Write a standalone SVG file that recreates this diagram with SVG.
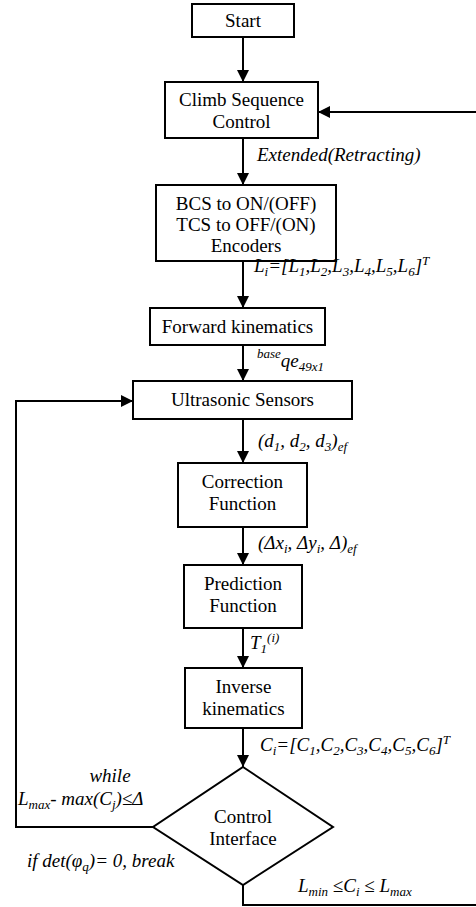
<svg xmlns="http://www.w3.org/2000/svg" width="476" height="907" viewBox="0 0 476 907">
<style>
.box{fill:#fff;stroke:#000;stroke-width:2}
.t{font-family:'Liberation Serif','Times New Roman',Tinos,'DejaVu Serif',serif;font-size:19px;text-anchor:middle;fill:#000}
.l{font-family:'Liberation Serif','Times New Roman',Tinos,'DejaVu Serif',serif;font-size:19px;font-style:italic;fill:#000}
.s{font-size:13px}
.c{fill:none;stroke:#000;stroke-width:2}
</style>
<defs>
<marker id="ah" markerWidth="12" markerHeight="12" viewBox="0 0 12 12" refX="12" refY="6" orient="auto" markerUnits="userSpaceOnUse">
<path d="M0,0 L12,6 L0,12 Z" fill="#000"/>
</marker>
</defs>
<g id="connectors">
<path class="c" d="M243,37 V82" marker-end="url(#ah)"/>
<path class="c" d="M243,138 V185" marker-end="url(#ah)"/>
<path class="c" d="M243,261 V308" marker-end="url(#ah)"/>
<path class="c" d="M243,345 V381" marker-end="url(#ah)"/>
<path class="c" d="M243,419 V463" marker-end="url(#ah)"/>
<path class="c" d="M243,527 V565" marker-end="url(#ah)"/>
<path class="c" d="M243,628 V668" marker-end="url(#ah)"/>
<path class="c" d="M243,728 V767" marker-end="url(#ah)"/>
<path class="c" d="M153,827 H16 V401 H133" marker-end="url(#ah)"/>
<path class="c" d="M243,885 V905 H476"/>
<path class="c" d="M476,112 H318" marker-end="url(#ah)"/>
</g>
<g id="start"><rect class="box" x="192" y="4" width="102" height="33"/><text class="t" x="243" y="27">Start</text></g>
<g id="climb"><rect class="box" x="165" y="82" width="153" height="56"/><text class="t" x="241.5" y="106">Climb Sequence</text><text class="t" x="241.5" y="128">Control</text></g>
<g id="bcs"><rect class="box" x="156" y="185" width="180" height="76"/><text class="t" x="246" y="210">BCS to ON/(OFF)</text><text class="t" x="246" y="231">TCS to OFF/(ON)</text><text class="t" x="246" y="252">Encoders</text></g>
<g id="fk"><rect class="box" x="150" y="308" width="175" height="37"/><text class="t" x="237.5" y="333">Forward kinematics</text></g>
<g id="us"><rect class="box" x="133" y="381" width="219" height="38"/><text class="t" x="242.5" y="406">Ultrasonic Sensors</text></g>
<g id="cf"><rect class="box" x="178" y="463" width="129" height="64"/><text class="t" x="242.5" y="488">Correction</text><text class="t" x="242.5" y="510">Function</text></g>
<g id="pf"><rect class="box" x="184" y="565" width="118" height="63"/><text class="t" x="243" y="590">Prediction</text><text class="t" x="243" y="612">Function</text></g>
<g id="ik"><rect class="box" x="185" y="668" width="117" height="60"/><text class="t" x="243.5" y="693">Inverse</text><text class="t" x="243.5" y="715">kinematics</text></g>
<g id="ci"><path class="box" d="M243,767 L333,827 L243,885 L153,827 Z"/><text class="t" x="243" y="823">Control</text><text class="t" x="243" y="845">Interface</text></g>
<g id="labels">
<text class="l" x="257" y="161">Extended(Retracting)</text>
<text class="l" x="254" y="272">L<tspan class="s" dy="4">i</tspan><tspan dy="-4">=[L</tspan><tspan class="s" dy="4">1</tspan><tspan dy="-4">,L</tspan><tspan class="s" dy="4">2</tspan><tspan dy="-4">,L</tspan><tspan class="s" dy="4">3</tspan><tspan dy="-4">,L</tspan><tspan class="s" dy="4">4</tspan><tspan dy="-4">,L</tspan><tspan class="s" dy="4">5</tspan><tspan dy="-4">,L</tspan><tspan class="s" dy="4">6</tspan><tspan dy="-4">]</tspan><tspan class="s" dy="-7">T</tspan></text>
<text class="l" x="257" y="367"><tspan class="s" dy="-9">base</tspan><tspan dy="9">qe</tspan><tspan class="s" dy="4">49x1</tspan></text>
<text class="l" x="258" y="447">(d<tspan class="s" dy="4">1</tspan><tspan dy="-4">, d</tspan><tspan class="s" dy="4">2</tspan><tspan dy="-4">, d</tspan><tspan class="s" dy="4">3</tspan><tspan dy="-4">)</tspan><tspan class="s" dy="4">ef</tspan></text>
<text class="l" x="258" y="549">(Δx<tspan class="s" dy="4">i</tspan><tspan dy="-4">, Δy</tspan><tspan class="s" dy="4">i</tspan><tspan dy="-4">, Δ)</tspan><tspan class="s" dy="4">ef</tspan></text>
<text class="l" x="250" y="649">T<tspan class="s" dy="4">1</tspan><tspan class="s" dy="-11">(i)</tspan></text>
<text class="l" x="260" y="751">C<tspan class="s" dy="4">i</tspan><tspan dy="-4">=[C</tspan><tspan class="s" dy="4">1</tspan><tspan dy="-4">,C</tspan><tspan class="s" dy="4">2</tspan><tspan dy="-4">,C</tspan><tspan class="s" dy="4">3</tspan><tspan dy="-4">,C</tspan><tspan class="s" dy="4">4</tspan><tspan dy="-4">,C</tspan><tspan class="s" dy="4">5</tspan><tspan dy="-4">,C</tspan><tspan class="s" dy="4">6</tspan><tspan dy="-4">]</tspan><tspan class="s" dy="-7">T</tspan></text>
<text class="l" x="110" y="782" text-anchor="middle">while</text>
<text class="l" x="18" y="805">L<tspan class="s" dy="4">max</tspan><tspan dy="-4">- max(C</tspan><tspan class="s" dy="4">j</tspan><tspan dy="-4">)≤Δ</tspan></text>
<text class="l" x="27" y="867">if det(φ<tspan class="s" dy="4">q</tspan><tspan dy="-4">)= 0, break</tspan></text>
<text class="l" x="298" y="892">L<tspan class="s" dy="4">min</tspan><tspan dy="-4"> ≤C</tspan><tspan class="s" dy="4">i</tspan><tspan dy="-4"> ≤ L</tspan><tspan class="s" dy="4">max</tspan></text>
</g>
</svg>
